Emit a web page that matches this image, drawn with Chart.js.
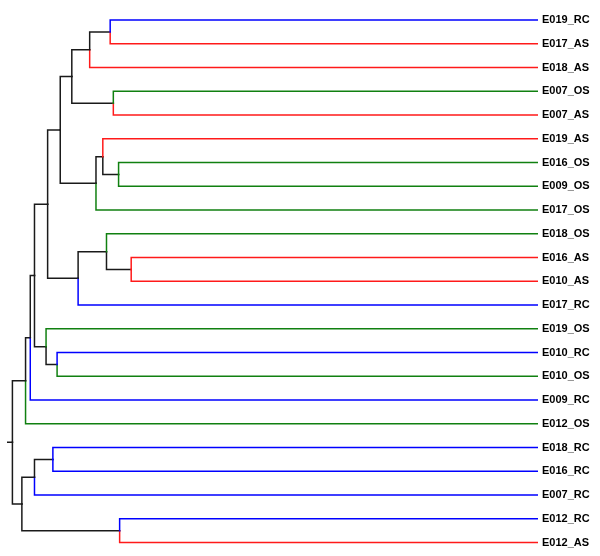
<!DOCTYPE html>
<html>
<head>
<meta charset="utf-8">
<script src="https://cdn.jsdelivr.net/npm/chart.js@4"></script>
<style>
  html, body { margin: 0; padding: 0; background: #fff; }
  #wrap { width: 600px; height: 556px; position: relative; }
</style>
</head>
<body>
<div id="wrap"><canvas id="tree"></canvas></div>
<script>
// Листья дерева (сверху вниз)
const leafLabels = [
  'E019_RC', 'E017_AS', 'E018_AS', 'E007_OS', 'E007_AS', 'E019_AS',
  'E016_OS', 'E009_OS', 'E017_OS', 'E018_OS', 'E016_AS', 'E010_AS',
  'E017_RC', 'E019_OS', 'E010_RC', 'E010_OS', 'E009_RC', 'E012_OS',
  'E018_RC', 'E016_RC', 'E007_RC', 'E012_RC', 'E012_AS'
];

// Слияния: индексы < 23 — листья, дальше — кластеры по порядку
const mergeLeft   = [10, 21, 6, 3, 0, 9, 5, 29, 27, 28, 31, 33, 14, 18, 34, 13, 37, 36, 39, 41, 40, 42];
const mergeRight  = [11, 22, 7, 4, 1, 23, 25, 8, 2, 12, 26, 30, 15, 19, 32, 35, 38, 20, 16, 17, 24, 43];
const mergeHeight = [0.774, 0.796, 0.798, 0.808, 0.814, 0.821, 0.828, 0.841, 0.853, 0.875, 0.887,
                     0.909, 0.915, 0.923, 0.933, 0.936, 0.958, 0.958, 0.966, 0.975, 0.982, 1.000];
const rootStub = 1.0103;

const groupColors = { RC: '#0000ff', AS: '#ff1a1a', OS: '#108010' };
const nodeColor = '#1a1a1a';

const nLeaf = leafLabels.length;
const pos = [];
const height = [];
leafLabels.forEach((l, i) => { pos.push(i); height.push(0); });
mergeHeight.forEach((h, k) => {
  pos.push((pos[mergeLeft[k]] + pos[mergeRight[k]]) / 2);
  height.push(h);
});

function colorOf(idx) {
  if (idx < nLeaf) return groupColors[leafLabels[idx].split('_')[1]];
  return nodeColor;
}

const datasets = [];
mergeHeight.forEach((h, k) => {
  const node = nLeaf + k;
  [mergeLeft[k], mergeRight[k]].forEach(child => {
    datasets.push({
      data: [
        { x: h, y: pos[node] },
        { x: h, y: pos[child] },
        { x: height[child], y: pos[child] }
      ],
      borderColor: colorOf(child)
    });
  });
});
const root = pos.length - 1;
datasets.push({
  data: [{ x: rootStub, y: pos[root] }, { x: height[root], y: pos[root] }],
  borderColor: nodeColor
});
datasets.forEach(d => {
  d.showLine = true;
  d.pointRadius = 0;
  d.borderWidth = 1.5;
  d.fill = false;
  d.tension = 0;
  d.borderJoinStyle = 'miter';
  d.borderCapStyle = 'square';
});

new Chart(document.getElementById('tree'), {
  type: 'scatter',
  data: { datasets },
  options: {
    responsive: true,
    maintainAspectRatio: false,
    animation: false,
    layout: { padding: { top: 7, bottom: 2, left: 7, right: 0 } },
    plugins: { legend: { display: false }, tooltip: { enabled: false } },
    scales: {
      x: {
        type: 'linear',
        reverse: true,
        min: 0,
        max: rootStub,
        display: false
      },
      y: {
        type: 'linear',
        position: 'right',
        reverse: true,
        min: -0.40,
        max: 22.12,
        grid: { display: false, drawTicks: false, tickLength: 0 },
        border: { display: false },
        afterBuildTicks: s => { s.ticks = leafLabels.map((l, i) => ({ value: i })); },
        afterFit: s => { s.width = 62; },
        ticks: {
          padding: 4,
          color: '#000',
          font: { family: '"Liberation Sans", Arial, sans-serif', size: 11, weight: 'bold' },
          callback: v => leafLabels[v]
        }
      }
    }
  }
});
</script>
</body>
</html>
